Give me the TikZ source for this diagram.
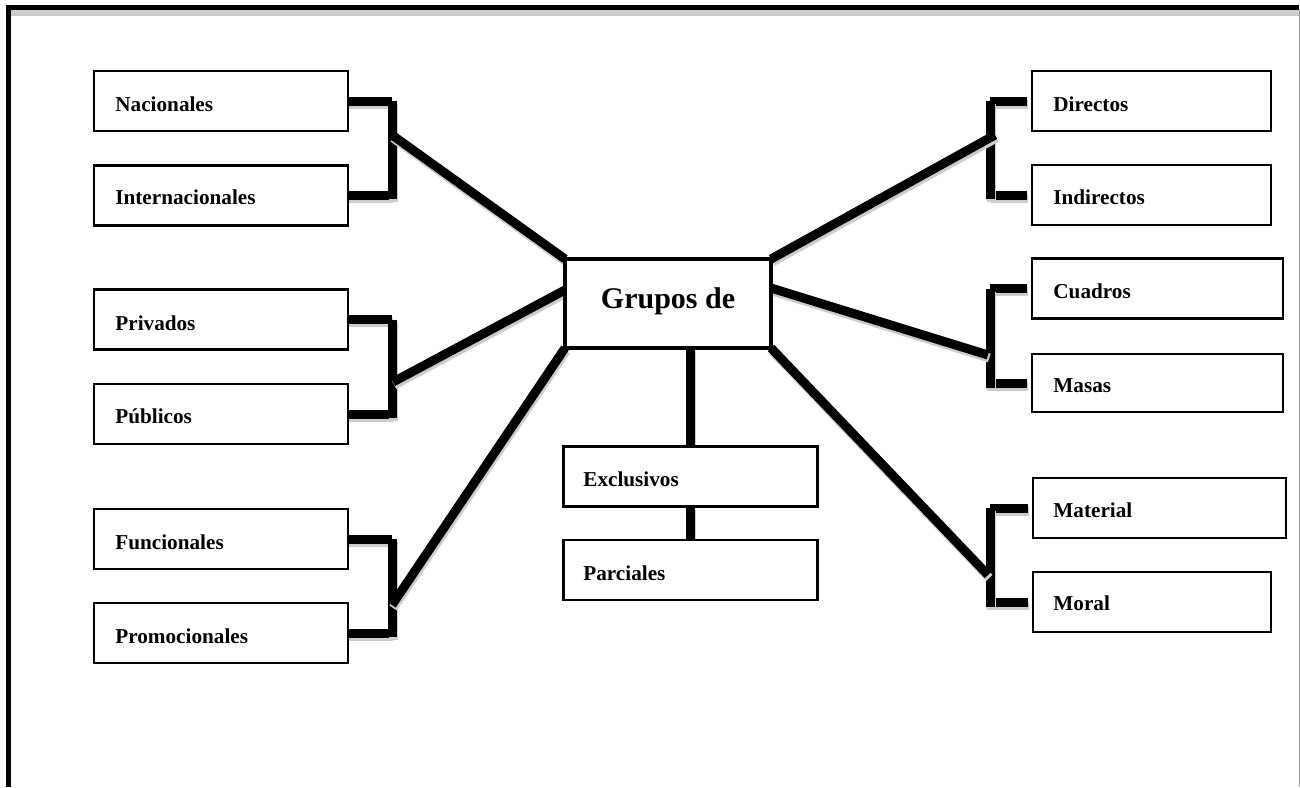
\documentclass[tikz,border=0pt]{standalone}
\usepackage{fontspec}
\setmainfont{Liberation Serif}
\usetikzlibrary{calc}
\pgfdeclarelayer{background}
\pgfsetlayers{background,main}
\newcommand\sdraw[1]{\draw[connshadow] #1; \draw[conn] #1;}
\begin{document}
\begin{tikzpicture}[x=0.5pt,y=-0.5pt,
  box/.style={draw=black, line width=1.15pt, fill=white, minimum height=30pt, minimum width=127pt, inner sep=0pt, outer sep=0pt},
  lbl/.style={anchor=base west, inner sep=0pt, font=\fontsize{10.6}{12}\bfseries\selectfont},
  conn/.style={line width=4.5pt, black},
  connshadow/.style={line width=4.5pt, color=black!20, transform canvas={shift={(0.6pt,-1.5pt)}}},
  frame/.style={line width=2.5pt, black}
  ]
\useasboundingbox (0,0) rectangle (1300,787);
% page frame
\fill[black!20] (11,10) rectangle (1299,16);
\draw[frame] (6,7.5) -- (1299,7.5);
\draw[frame] (8.5,5) -- (8.5,787);
\draw[black!40, line width=0.5pt] (1299,10) -- (1299,787);

% central node
\node[box, line width=2pt, minimum width=103pt, minimum height=44.5pt] (ctr) at (668,303.5) {};
\node[anchor=base, inner sep=0pt, font=\fontsize{15}{18}\bfseries\selectfont] (tctr) at (668,308) {Grupos de};

% left boxes
\node[box] (nac) at (221,101) {};
\node[box] (int) at (221,195.5) {};
\node[box] (pri) at (221,319.5) {};
\node[box] (pub) at (221,414) {};
\node[box] (fun) at (221,539) {};
\node[box] (pro) at (221,633) {};
\node[lbl] (tnac) at (115,111) {Nacionales};
\node[lbl] (tint) at (115,204) {Internacionales};
\node[lbl] (tpri) at (115,330) {Privados};
\node[lbl] (tpub) at (115,423) {Públicos};
\node[lbl] (tfun) at (115,549) {Funcionales};
\node[lbl] (tpro) at (115,643) {Promocionales};

% centre column boxes
\node[box] (exc) at (690.5,476.5) {};
\node[box] (par) at (690.5,570) {};
\node[lbl] (texc) at (583,486) {Exclusivos};
\node[lbl] (tpar) at (583,580) {Parciales};

% right boxes
\node[box, minimum width=119.5pt] (dir) at (1151.5,101) {};
\node[box, minimum width=119.5pt] (ind) at (1151.5,195) {};
\node[box, minimum width=125.5pt] (cua) at (1157.5,288.5) {};
\node[box, minimum width=125.5pt, minimum height=29pt] (mas) at (1157.5,383) {};
\node[box, minimum width=126.5pt] (mat) at (1159.5,508) {};
\node[box, minimum width=119pt] (mor) at (1152,602) {};
\node[lbl] (tdir) at (1053,111) {Directos};
\node[lbl] (tind) at (1053,204) {Indirectos};
\node[lbl] (tcua) at (1053,298) {Cuadros};
\node[lbl] (tmas) at (1053,392) {Masas};
\node[lbl] (tmat) at (1053,517) {Material};
\node[lbl] (tmor) at (1053,610) {Moral};

% bracket coordinates
\coordinate (L1a) at (392,101);   \coordinate (L1b) at (392,199);   \coordinate (L1m) at (392,135);
\coordinate (L2a) at (392,319.5); \coordinate (L2b) at (392,418);   \coordinate (L2m) at (393,382);
\coordinate (L3a) at (392,539);   \coordinate (L3b) at (392,637);   \coordinate (L3m) at (392,605);
\coordinate (R1a) at (990,101);   \coordinate (R1b) at (990,199);   \coordinate (R1m) at (995,135);
\coordinate (R2a) at (990,288.5); \coordinate (R2b) at (990,388);   \coordinate (R2m) at (988,355);
\coordinate (R3a) at (990,508);   \coordinate (R3b) at (990,607);   \coordinate (R3m) at (988,575);

\begin{pgfonlayer}{background}
% left brackets
\sdraw{(nac.east) -- (nac.east -| L1a)}
\sdraw{(int.east) -- (int.east -| L1a)}
\sdraw{(L1a) -- (L1b)}
\sdraw{(pri.east) -- (pri.east -| L2a)}
\sdraw{(pub.east) -- (pub.east -| L2a)}
\sdraw{(L2a) -- (L2b)}
\sdraw{(fun.east) -- (fun.east -| L3a)}
\sdraw{(pro.east) -- (pro.east -| L3a)}
\sdraw{(L3a) -- (L3b)}
% right brackets
\sdraw{([xshift=-2.5pt]dir.west) -- (dir.west -| R1a)}
\sdraw{([xshift=-2.5pt]ind.west) -- (ind.west -| R1a)}
\sdraw{(R1a) -- (R1b)}
\sdraw{([xshift=-2.5pt]cua.west) -- (cua.west -| R2a)}
\sdraw{([xshift=-2.5pt]mas.west) -- (mas.west -| R2a)}
\sdraw{(R2a) -- (R2b)}
\sdraw{([xshift=-2.5pt]mat.west) -- (mat.west -| R3a)}
\sdraw{([xshift=-2.5pt]mor.west) -- (mor.west -| R3a)}
\sdraw{(R3a) -- (R3b)}
% spokes
\sdraw{(L1m) -- (ctr.north west)}
\sdraw{(L2m) -- ($(ctr.west)+(0,-13.5)$)}
\sdraw{(L3m) -- (ctr.south west)}
\sdraw{(ctr.north east) -- (R1m)}
\sdraw{($(ctr.east)+(0,-15.5)$) -- (R2m)}
\sdraw{(ctr.south east) -- (R3m)}
\sdraw{(exc.north |- ctr.south) -- (exc.north)}
\sdraw{(exc.south) -- (par.north)}
\end{pgfonlayer}
\end{tikzpicture}
\end{document}
